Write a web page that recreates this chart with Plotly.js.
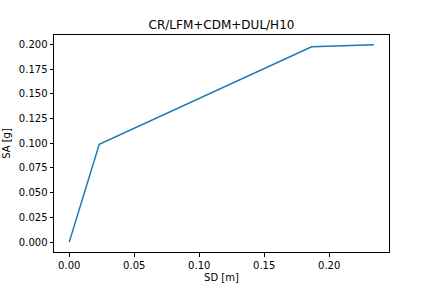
<!DOCTYPE html>
<html>
<head>
<meta charset="utf-8">
<script src="https://cdn.plot.ly/plotly-3.0.1.min.js"></script>
<style>html,body{margin:0;padding:0;background:#fff;}#chart{width:432px;height:288px;}</style>
</head>
<body>
<div id="chart"></div>
<script>
const sd = [0.0, 0.0231, 0.1865, 0.2343];
const sa = [0.0, 0.0989, 0.1975, 0.1995];
const titleText = "CR/LFM+CDM+DUL/H10";
const xLabel = "SD [m]";
const yLabel = "SA [g]";

const xpad = (Math.max(...sd) - Math.min(...sd)) * 0.05;
const ypad = (Math.max(...sa) - Math.min(...sa)) * 0.05;

const font = {family: "DejaVu Sans", size: 10, color: "#000"};
const axisCommon = {
  showgrid: false, zeroline: false, showline: true, mirror: true,
  linecolor: "#000", linewidth: 1, ticks: "outside", ticklen: 3.5,
  tickwidth: 1, tickcolor: "#000", tickfont: font
};
Plotly.newPlot("chart", [{
  x: sd, y: sa, type: "scatter", mode: "lines",
  line: {color: "#1f77b4", width: 1.5}
}], {
  width: 432, height: 288,
  margin: {l: 54, r: 43, t: 35, b: 36},
  paper_bgcolor: "#fff", plot_bgcolor: "#fff",
  showlegend: false,
  title: {text: titleText, font: {family: "DejaVu Sans", size: 12, color: "#000"},
          x: 0.5, xref: "paper", y: 1, yref: "paper", yanchor: "bottom", pad: {b: 6}},
  xaxis: Object.assign({}, axisCommon, {
    range: [Math.min(...sd) - xpad, Math.max(...sd) + xpad],
    dtick: 0.05, tick0: 0, tickformat: ".2f",
    title: {text: xLabel, font: font, standoff: 4}
  }),
  yaxis: Object.assign({}, axisCommon, {
    range: [Math.min(...sa) - ypad, Math.max(...sa) + ypad],
    dtick: 0.025, tick0: 0, tickformat: ".3f",
    title: {text: yLabel, font: font, standoff: 6}
  })
}, {staticPlot: true});
</script>
</body>
</html>
